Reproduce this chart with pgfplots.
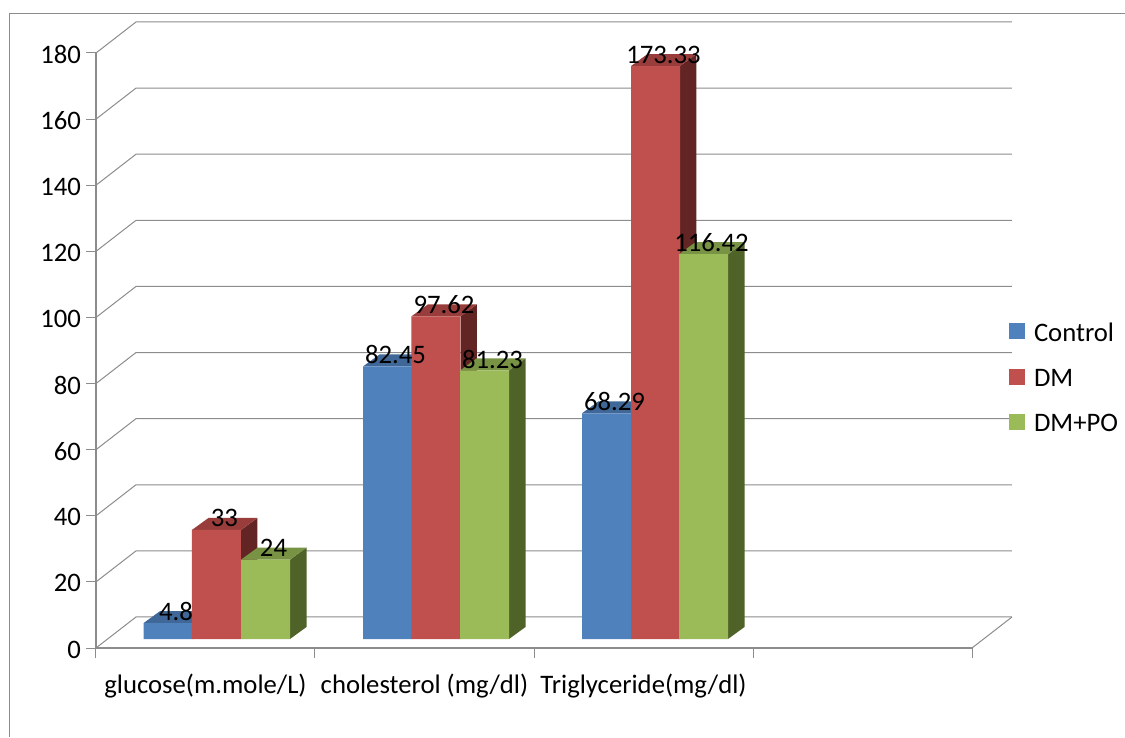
\documentclass[border=0pt]{standalone}
\usepackage{fontspec}
\setmainfont{Carlito}
\usepackage{pgfplots}
\pgfplotsset{compat=1.18}
\definecolor{cb}{HTML}{4F81BD}
\definecolor{cr}{HTML}{C0504D}
\definecolor{cg}{HTML}{9BBB59}
\definecolor{tb}{HTML}{3F6797}
\definecolor{tr}{HTML}{983D3B}
\definecolor{tg}{HTML}{779343}
\definecolor{sb}{HTML}{2F4D71}
\definecolor{sr}{HTML}{632523}
\definecolor{sg}{HTML}{4F6228}
\definecolor{ax}{HTML}{8C8C8C}
\newcommand{\fs}{\fontsize{26.7}{31}\selectfont}
% depth faces of one bar: centre x, value, side colour, top colour
\newcommand{\depthfaces}[4]{%
  \pgfmathsetmacro{\xa}{#1-0.1119}%
  \pgfmathsetmacro{\xb}{#1+0.1119}%
  \pgfmathsetmacro{\xc}{#1+0.1119+0.0753}%
  \pgfmathsetmacro{\xd}{#1-0.1119+0.0753}%
  \pgfmathsetmacro{\vb}{#2+3.63}%
  \pgfmathsetmacro{\ve}{3.63}%
  \addplot[fill=#3,draw=none,forget plot] coordinates {(\xb,0) (\xc,\ve) (\xc,\vb) (\xb,#2)} -- cycle;
  \addplot[fill=#4,draw=none,forget plot] coordinates {(\xa,#2) (\xb,#2) (\xc,\vb) (\xd,\vb)} -- cycle;
}
% one line of the back wall
\newcommand{\wall}[1]{%
  \pgfmathsetmacro{\vb}{#1+9.38}%
  \addplot[color=ax,line width=1pt,forget plot] coordinates {(0,#1) (0.1826,\vb) (4.1826,\vb)};
}
\begin{document}
\begin{tikzpicture}
\path[use as bounding box] (-96pt,-89pt) rectangle (1029pt,648pt);
\draw[ax,line width=1pt] (-86.5pt,-89pt) -- (-86.5pt,634pt) -- (1029pt,634pt);
\begin{axis}[
  at={(0pt,0pt)},anchor=south west,
  scale only axis,width=876pt,height=595pt,
  xmin=0,xmax=4,ymin=0,ymax=180,
  clip=false,
  axis x line*=bottom,axis y line*=left,
  axis line style={ax,line width=1.2pt,-},
  ytick={0,20,...,180},
  xtick={0.5,1.5,2.5},
  xticklabels={glucose(m.mole/L),cholesterol (mg/dl),Triglyceride(mg/dl)},
  minor xtick={0,1,2,3,4},
  major x tick style={draw=none},
  minor x tick style={ax,line width=1pt},
  major y tick style={ax,line width=1pt},
  tick align=outside,
  major tick length=10pt,minor tick length=10pt,
  tick label style={font=\fs},
  x tick label style={yshift=-12.5pt},
  y tick label style={xshift=-1.5pt,yshift=-1.5pt},
  /pgf/number format/assume math mode=true,
]
\wall{0}\wall{20}\wall{40}\wall{60}\wall{80}\wall{100}\wall{120}\wall{140}\wall{160}\wall{180}
\addplot[color=ax,line width=1pt,forget plot] coordinates {(4,0) (4.1826,9.38)};
\end{axis}
\begin{axis}[
  at={(0pt,0pt)},anchor=south west,
  scale only axis,width=876pt,height=595pt,
  xmin=0,xmax=4,ymin=-2.72,ymax=177.28,
  clip=false,hide axis,
  legend style={at={(1.042,0.55)},anchor=north west,draw=none,fill=none,font=\fs,inner sep=0pt,
    row sep=22.5pt,cells={anchor=west}},
  legend cell align=left,
  nodes near coords style={font=\fs,anchor=center,xshift=8pt,yshift=11.5pt},
]
\depthfaces{0.3288}{4.8}{sb}{tb}
\depthfaces{0.5502}{33}{sr}{tr}
\depthfaces{0.7740}{24}{sg}{tg}
\depthfaces{1.3311}{82.45}{sb}{tb}
\depthfaces{1.5525}{97.62}{sr}{tr}
\depthfaces{1.7740}{81.23}{sg}{tg}
\depthfaces{2.3311}{68.29}{sb}{tb}
\depthfaces{2.5548}{173.33}{sr}{tr}
\depthfaces{2.7740}{116.42}{sg}{tg}
\pgfplotsset{bar3/.style={ybar,bar width=49pt,bar shift=0pt,draw=none,fill=#1,
  legend image code/.code={\path[draw=none,fill=none] (0pt,0pt) rectangle (23pt,1pt);\fill[#1,draw=none] (0pt,-6pt) rectangle (16pt,10pt);}}}
\addplot[bar3=cb] coordinates {(0.3288,4.8) (1.3311,82.45) (2.3311,68.29)};
\addlegendentry{Control}
\addplot[bar3=cr] coordinates {(0.5502,33) (1.5525,97.62) (2.5548,173.33)};
\addlegendentry{DM}
\addplot[bar3=cg] coordinates {(0.7740,24) (1.7740,81.23) (2.7740,116.42)};
\addlegendentry{DM+PO}
\addplot[draw=none,mark=none,forget plot,nodes near coords,
  point meta=explicit symbolic] coordinates {
  (0.3288,4.8) [4.8] (1.3311,82.45) [82.45] (2.3311,68.29) [68.29]
  (0.5502,33) [33] (1.5525,97.62) [97.62] (2.5548,173.33) [173.33]
  (0.7740,24) [24] (1.7740,81.23) [81.23] (2.7740,116.42) [116.42]};
\end{axis}
\end{tikzpicture}
\end{document}
